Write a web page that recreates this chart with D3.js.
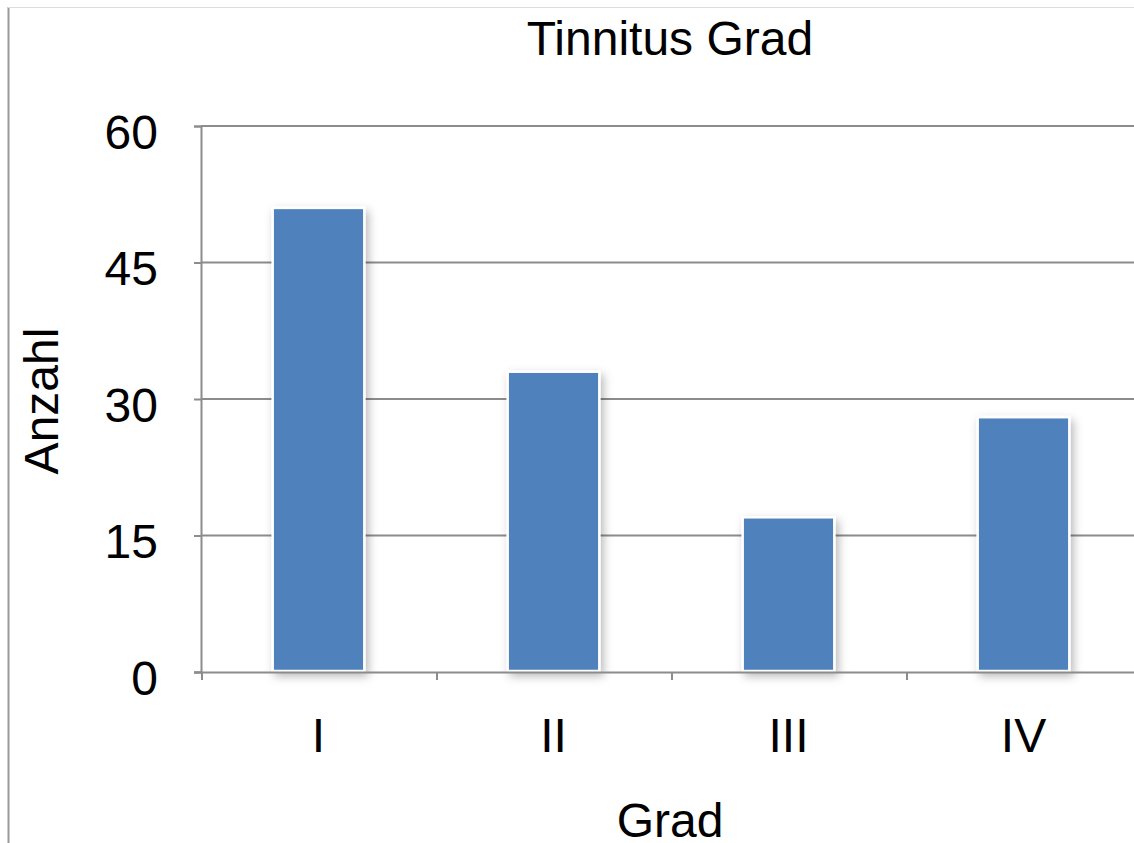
<!DOCTYPE html>
<html><head><meta charset="utf-8">
<script src="https://cdn.jsdelivr.net/npm/d3@7"></script>
<style>body{margin:0;background:#fff}svg{display:block}text{font-family:"Liberation Sans",Arial,sans-serif;fill:#000}</style>
</head><body>
<script>
const categories = ["I","II","III","IV"];
const values = [51, 33, 17, 28];
const yTicks = [0, 15, 30, 45, 60];
const title = "Tinnitus Grad";
const xTitle = "Grad";
const yTitle = "Anzahl";

(function(){
const W = 1134, H = 843, FS = 48;
const svg = d3.select("body").append("svg").attr("width", W).attr("height", H);
const defs = svg.append("defs");
const f = defs.append("filter").attr("id","sh").attr("x","-20%").attr("y","-20%").attr("width","150%").attr("height","150%");
f.append("feDropShadow").attr("dx",3).attr("dy",4).attr("stdDeviation",5).attr("flood-color","#000").attr("flood-opacity",0.28);

// frame
svg.append("line").attr("x1",8.5).attr("x2",8.5).attr("y1",7).attr("y2",H).attr("stroke","#999").attr("stroke-width",2);
svg.append("line").attr("x1",8).attr("x2",W).attr("y1",7.5).attr("y2",7.5).attr("stroke","#ddd").attr("stroke-width",1);

const pl = 201, pr = 1141, pt = 126, pb = 672;
const x = d3.scaleBand().domain(categories).range([pl, pr]).paddingInner(0.61).paddingOuter(0.305);
const y = d3.scaleLinear().domain([0, 60]).range([pb, pt]);
const band = (pr-pl)/categories.length;

// gridlines
svg.append("g").selectAll("line").data(yTicks.filter(d=>d>0)).join("line")
  .attr("x1", pl).attr("x2", W).attr("y1", d=>y(d)).attr("y2", d=>y(d))
  .attr("stroke","#8c8c8c").attr("stroke-width",2);

// y axis
const ya = svg.append("g").attr("transform",`translate(${pl},0)`)
  .call(d3.axisLeft(y).tickValues(yTicks).tickSize(7).tickPadding(36));
ya.select(".domain").attr("stroke","#8c8c8c").attr("stroke-width",2);
ya.selectAll(".tick line").attr("stroke","#8c8c8c").attr("stroke-width",2);
ya.selectAll(".tick text").attr("font-size",FS).attr("font-family","Liberation Sans, Arial, sans-serif").attr("dy","0.36em").attr("y",5);

// bars
svg.append("g").selectAll("rect").data(values).join("rect")
  .attr("x",(d,i)=>x(categories[i])).attr("width",x.bandwidth())
  .attr("y",d=>y(d)).attr("height",d=>y(0)-y(d)-1)
  .attr("fill","#4f81bd").attr("stroke","#fff").attr("stroke-width",2.5)
  .attr("filter","url(#sh)");

// x axis
const xa = svg.append("g").attr("transform",`translate(0,${pb})`);
xa.append("line").attr("x1",pl-7).attr("x2",W).attr("y1",0.5).attr("y2",0.5).attr("stroke","#8c8c8c").attr("stroke-width",2);
xa.selectAll("line.tk").data(d3.range(categories.length)).join("line").attr("class","tk")
  .attr("x1",i=>pl+i*band+1).attr("x2",i=>pl+i*band+1).attr("y1",0).attr("y2",8)
  .attr("stroke","#8c8c8c").attr("stroke-width",2);
xa.selectAll("text").data(categories).join("text")
  .attr("x",d=>x(d)+x.bandwidth()/2).attr("y",80).attr("text-anchor","middle").attr("font-size",FS).text(d=>d);

// titles
svg.append("text").attr("x",670).attr("y",55).attr("text-anchor","middle").attr("font-size",FS).text(title);
svg.append("text").attr("x",670).attr("y",837).attr("text-anchor","middle").attr("font-size",FS).text(xTitle);
svg.append("text").attr("transform","translate(58,401) rotate(-90)").attr("text-anchor","middle").attr("font-size",FS).text(yTitle);
})();
</script>
</body></html>
